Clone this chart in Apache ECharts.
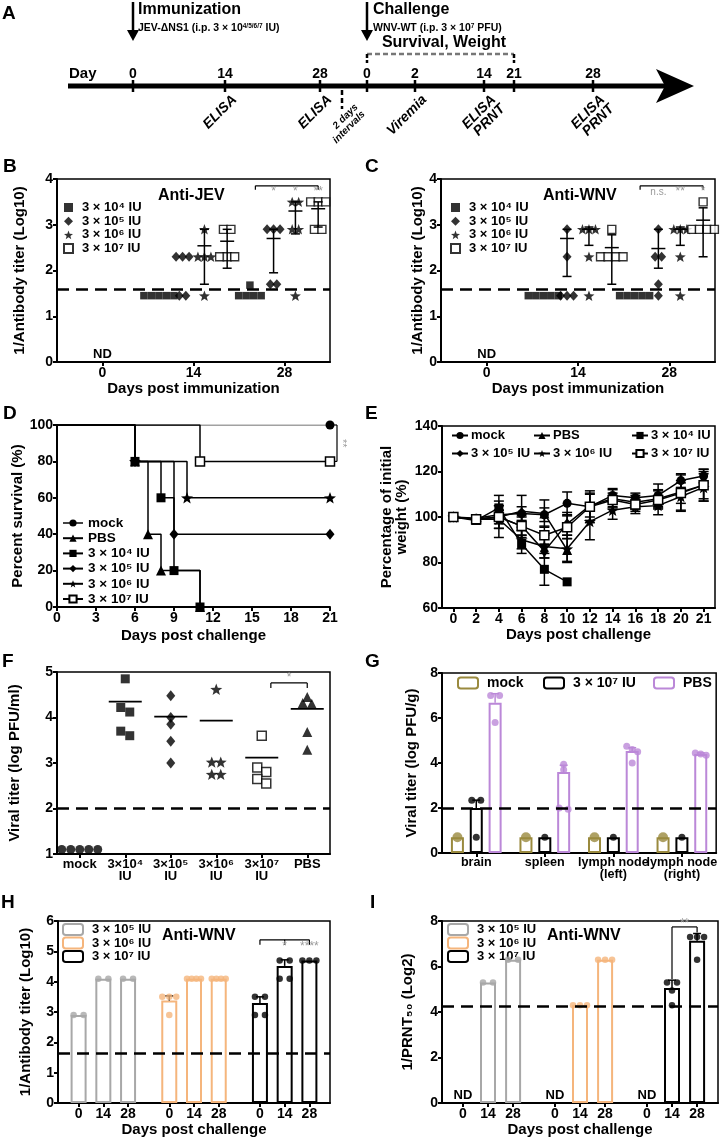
<!DOCTYPE html>
<html><head><meta charset="utf-8">
<script src="https://cdn.jsdelivr.net/npm/echarts@6.0.0/dist/echarts.min.js"></script>
<style>
html,body{margin:0;padding:0;background:#fff}
#wrap{position:relative;width:720px;height:1139px;overflow:hidden;background:#fff}
.p{position:absolute;left:0;top:0;width:720px;height:1139px}
</style></head><body><div id="wrap"></div>
<script>
// ================= DATA =================
// Panel A timeline
const tlDayLabels=['0','14','28','0','2','14','21','28'];
const tlEventLabels=[null,'ELISA','ELISA',null,'Viremia','ELISA\nPRNT',null,'ELISA\nPRNT'];
// Panels B / C
const doseLabels=['3 × 10⁴ IU','3 × 10⁵ IU','3 × 10⁶ IU','3 × 10⁷ IU'];
const immDays=['0','14','28'];
const jev_3e4=[[],[1.45,1.45,1.45,1.45,1.45],[1.68,1.45,1.45,1.45,1.45]];
const jev_3e5=[[],[2.3,2.3,2.3,1.45,1.45],[2.9,2.9,2.9,1.7,1.7]];
const jev_3e6=[[],[2.9,2.3,2.3,2.3,1.45],[3.5,3.5,2.9,2.9,1.45]];
const jev_3e7=[[],[2.9,2.9,2.3,2.3,2.3],[3.5,3.5,3.5,2.9,2.9]];
const jevErr_3e4=[null,null,null];            // [mean, low, high]
const jevErr_3e5=[null,null,[2.7,1.95,2.9]];
const jevErr_3e6=[null,[2.54,1.7,2.9],[3.3,2.8,3.5]];
const jevErr_3e7=[null,[2.64,2.05,2.9],[3.35,2.95,3.5]];
const jevSig=['*','*','**'];
const wnv_3e4=[[],[1.45,1.45,1.45,1.45,1.45],[1.45,1.45,1.45,1.45,1.45]];
const wnv_3e5=[[],[2.9,2.3,1.45,1.45,1.45],[2.9,2.3,2.3,1.7,1.45]];
const wnv_3e6=[[],[2.9,2.9,2.9,2.3,1.45],[2.9,2.9,2.9,2.3,1.45]];
const wnv_3e7=[[],[2.9,2.3,2.3,2.3,2.3],[3.5,2.9,2.9,2.9,2.9]];
const wnvErr_3e4=[null,null,null];
const wnvErr_3e5=[null,[2.7,1.87,2.9],[2.48,2.05,2.9]];
const wnvErr_3e6=[null,[2.9,2.55,2.95],[2.9,2.55,2.95]];
const wnvErr_3e7=[null,[2.5,1.7,2.78],[3.1,2.3,3.37]];
const wnvSig=['n.s.','**','*'];
const elisaLOD=1.6;
// Panel D survival [day, %]
const survGroups=['mock','PBS','3 × 10⁴ IU','3 × 10⁵ IU','3 × 10⁶ IU','3 × 10⁷ IU'];
const surv_mock=[[0,100],[21,100]];
const surv_pbs=[[0,100],[6,80],[7,40],[8,20],[11,0]];
const surv_3e4=[[0,100],[6,80],[8,60],[9,20],[11,0]];
const surv_3e5=[[0,100],[6,80],[9,40],[21,40]];
const surv_3e6=[[0,100],[6,80],[10,60],[21,60]];
const surv_3e7=[[0,100],[11,80],[21,80]];
// Panel E weight (% of initial)
const wtDays=['0','2','4','6','8','10','12','14','16','18','20','21'];
const wt_mock=[100,99.5,101,101.5,101,106,104.5,109.5,108.5,109.5,116,118];
const wtSD_mock=[0,1,2,3,3,5,7,3,2,5,3,3];
const wt_pbs=[100,99,100,102.5,101.5,85.5,null,null,null,null,null,null];
const wtSD_pbs=[0,1,3,7,6,5];
const wt_3e4=[100,98.5,104,88,77,71.5,null,null,null,null,null,null];
const wtSD_3e4=[0,1.5,5.5,4,7,0];
const wt_3e5=[100,99,100,96,85,97,105,108,106.5,108,111,114];
const wtSD_3e5=[0,1,5,4,3,5,5,4,3,4,5,6];
const wt_3e6=[100,99,99,90,87,86,98,103,104.5,105,109,113];
const wtSD_3e6=[0,1,8,4,5,6,8,4,3,4,6,6];
const wt_3e7=[100,99,100,96,92,95.5,104.5,107.5,105.5,107.5,110.5,114];
const wtSD_3e7=[0,1,5,5,4,5,6,3,3,4,8,7];
// Panel F viremia
const virGroups=['mock','3×10⁴\nIU','3×10⁵\nIU','3×10⁶\nIU','3×10⁷\nIU','PBS'];
const vir_mock=[1.1,1.1,1.1,1.1,1.1];
const vir_3e4=[4.85,4.22,4.12,3.7,3.6];
const vir_3e5=[4.48,4.0,3.85,3.48,3.0];
const vir_3e6=[4.62,3.02,3.02,2.75,2.75];
const vir_3e7=[3.6,2.9,2.8,2.65,2.55];
const vir_pbs=[4.45,4.32,4.3,3.68,3.29];
const virMean=[null,4.35,4.02,3.93,3.12,4.19];
const virLOD=2;
// Panel G tissue titers
const tissues=['brain','spleen','lymph node\n(left)','lymph node\n(right)'];
const tisGroups=['mock','3 × 10⁷ IU','PBS'];
const tis_mockMean=[0.7,0.7,0.7,0.7];
const tis_mockSD=[0,0,0,0];
const tis_mockPts=[[0.7],[0.7],[0.7],[0.7]];
const tis_vacMean=[2.0,0.7,0.7,0.7];
const tis_vacSD=[0.35,0,0,0];
const tis_vacPts=[[2.35,2.35,0.7],[0.7],[0.7],[0.7]];
const tis_pbsMean=[6.68,3.6,4.53,4.4];
const tis_pbsSD=[0.4,0.3,0.15,0.05];
const tis_pbsPts=[[7.0,7.0,5.8],[3.95,3.7,2.0,1.95],[4.75,4.6,4.5,4.0],[4.45,4.4,4.35]];
// Panels H / I
const chDays=['0','14','28'];
const hiDoses=['3 × 10⁵ IU','3 × 10⁶ IU','3 × 10⁷ IU'];
const ab_3e5Mean=[2.9,4.1,4.1];  const ab_3e5SD=[0,0,0];
const ab_3e5Pts=[[2.9,2.9],[4.1,4.1],[4.1,4.1]];
const ab_3e6Mean=[3.38,4.1,4.1]; const ab_3e6SD=[0.15,0,0];
const ab_3e6Pts=[[3.5,3.5,3.5,2.9],[4.1,4.1,4.1,4.1],[4.1,4.1,4.1,4.1]];
const ab_3e7Mean=[3.3,4.52,4.7]; const ab_3e7SD=[0.2,0.2,0];
const ab_3e7Pts=[[3.5,3.5,2.9,2.9],[4.7,4.7,4.1,4.1],[4.7,4.7,4.7]];
const abLOD=1.65;
const pr_3e5Mean=[null,5.3,6.3];  const pr_3e5SD=[0,0,0];
const pr_3e5Pts=[[],[5.3,5.3],[6.3,6.3]];
const pr_3e6Mean=[null,4.3,6.3];  const pr_3e6SD=[0,0,0];
const pr_3e6Pts=[[],[4.3,4.3,4.3],[6.3,6.3,6.3]];
const pr_3e7Mean=[null,5.05,7.13]; const pr_3e7SD=[0,0.35,0.32];
const pr_3e7Pts=[[],[5.3,5.3,4.95,4.3],[7.3,7.3,7.3,6.3]];
const prntLOD=4.25;

// ================= STYLE / HELPERS =================
const FONT='"Liberation Sans", Arial, Helvetica, sans-serif';
const SIG='#9a9a9a';
const STAR=(function(){const p=[];for(let i=0;i<10;i++){const r=i%2?0.42:1;const a=-Math.PI/2+i*Math.PI/5;p.push((50+50*r*Math.cos(a)).toFixed(1)+' '+(50+50*r*Math.sin(a)).toFixed(1));}return 'path://M'+p.join(' L')+' Z';})();
const COL={grey:'#a8a8a8',orange:'#f5b57c',black:'#000',olive:'#9a8a3e',purple:'#bb88d8'};
function mk(){const d=document.createElement('div');d.className='p';document.getElementById('wrap').appendChild(d);return echarts.init(d,null,{width:720,height:1139,renderer:'canvas'});}
function lab(o){return Object.assign({show:true,color:'#000',fontFamily:FONT,fontWeight:'bold',fontSize:14,margin:4,hideOverlap:false,showMinLabel:true,showMaxLabel:true},o||{});}
function tick(o){return Object.assign({show:true,length:4,lineStyle:{color:'#000',width:2}},o||{});}
const AXL={show:true,onZero:false,lineStyle:{color:'#000',width:2}};
const NAME={color:'#000',fontFamily:FONT,fontWeight:'bold',fontSize:15};
function axis(o){return Object.assign({axisLine:AXL,axisTick:tick(),axisLabel:lab(),splitLine:{show:false},nameLocation:'middle',nameTextStyle:NAME},o);}
function grid(l,t,w,h,box){return {left:l,top:t,width:w,height:h,show:box,borderColor:'#000',borderWidth:1.5,containLabel:false};}
function dash(v){return {silent:true,symbol:['none','none'],label:{show:false},lineStyle:{color:'#000',type:[12,7],width:2.5},emphasis:{disabled:true},data:[{yAxis:v}]};}
function ltxt(o){return Object.assign({fontFamily:FONT,fontWeight:'bold',fontSize:13,color:'#000'},o||{});}
function gLine(x1,y1,x2,y2,st){return {type:'line',silent:true,shape:{x1:x1,y1:y1,x2:x2,y2:y2},style:Object.assign({stroke:'#000',lineWidth:1.5},st||{})};}
function gText(x,y,text,st,extra){return Object.assign({type:'text',silent:true,x:x,y:y,style:Object.assign({text:text,fill:'#000',font:'bold 13px '+FONT,align:'center',verticalAlign:'middle'},st||{})},extra||{});}
// beeswarm: spread points of (nearly) equal value side by side, offsets in px
function swarm(vals,pxPerUnit,sp,thr,maxSpan){
  const off=new Array(vals.length).fill(0);
  const order=vals.map((v,i)=>i).sort((a,b)=>vals[b]-vals[a]);
  let grp=[];
  const flush=()=>{const n=grp.length;const s=(maxSpan&&n>1)?Math.min(sp,maxSpan/(n-1)):sp;grp.forEach((i,k)=>off[i]=(k-(n-1)/2)*s);grp=[];};
  order.forEach(i=>{if(grp.length&&Math.abs(vals[grp[grp.length-1]]-vals[i])*pxPerUnit>thr)flush();grp.push(i);});
  flush();return off;
}
function errRender(meanW,capW){return function(params,api){
  const x=api.value(0),m=api.value(1),lo=api.value(2),hi=api.value(3);
  if(isNaN(m))return null;
  const pm=api.coord([x,m]),pl=api.coord([x,lo]),ph=api.coord([x,hi]);
  const st={stroke:'#000',lineWidth:1.5};const c=capW/2;
  const ch=[{type:'line',shape:{x1:pm[0],y1:pl[1],x2:pm[0],y2:ph[1]},style:st},
    {type:'line',shape:{x1:pm[0]-c,y1:pl[1],x2:pm[0]+c,y2:pl[1]},style:st},
    {type:'line',shape:{x1:pm[0]-c,y1:ph[1],x2:pm[0]+c,y2:ph[1]},style:st}];
  if(meanW)ch.push({type:'line',shape:{x1:pm[0]-meanW/2,y1:pm[1],x2:pm[0]+meanW/2,y2:pm[1]},style:st});
  return {type:'group',children:ch};
};}
function errUp(capW,color){return function(params,api){
  const x=api.value(0),m=api.value(1),sd=api.value(2);
  if(isNaN(m)||!sd)return null;
  const pm=api.coord([x,m]),ph=api.coord([x,m+sd]);
  const st={stroke:color||'#000',lineWidth:1.5};
  return {type:'group',children:[{type:'line',shape:{x1:pm[0],y1:pm[1],x2:pm[0],y2:ph[1]},style:st},
    {type:'line',shape:{x1:pm[0]-capW/2,y1:ph[1],x2:pm[0]+capW/2,y2:ph[1]},style:st}]};
};}
function meanRender(w){return function(params,api){
  const m=api.value(1);if(isNaN(m))return null;
  const p=api.coord([api.value(0),m]);
  return {type:'line',shape:{x1:p[0]-w/2,y1:p[1],x2:p[0]+w/2,y2:p[1]},style:{stroke:'#000',lineWidth:1.8}};
};}

// ================= PANEL A + letters =================
(function(){
  const ch=mk();
  const tlX=[133,225,320,367,415,484,514,593];
  const LY=86;
  const els=[];
  els.push(gLine(68,LY,668,LY,{lineWidth:5}));
  els.push({type:'polygon',silent:true,shape:{points:[[656,69],[694,LY],[656,103],[665,LY]]},style:{fill:'#000'}});
  els.push(gText(69,74,'Day',{align:'left',font:'bold 15px '+FONT}));
  tlX.forEach((x,i)=>{
    els.push(gLine(x,80,x,92,{lineWidth:2.5}));
    els.push(gText(x,74,tlDayLabels[i],{font:'bold 14px '+FONT}));
    if(tlEventLabels[i])els.push(gText(x+5,93,tlEventLabels[i],{align:'right',verticalAlign:'top',font:'italic bold 14px '+FONT,lineHeight:13},{rotation:Math.PI/4}));
  });
  // interval marker
  els.push(gLine(342,90,342,109,{lineWidth:2.5,lineDash:[5,3]}));
  els.push(gText(353,102,'2 days\nintervals',{align:'right',verticalAlign:'top',font:'italic bold 10px '+FONT,lineHeight:10},{rotation:Math.PI/4}));
  // arrows
  [tlX[0],tlX[3]].forEach(x=>{
    els.push(gLine(x,2,x,32,{lineWidth:2.5}));
    els.push({type:'polygon',silent:true,shape:{points:[[x-6,30],[x+6,30],[x,41]]},style:{fill:'#000'}});
  });
  els.push(gText(138,10,'Immunization',{align:'left',font:'bold 16px '+FONT}));
  els.push(gText(138,28,'JEV-ΔNS1 (i.p. 3 × 10{s|4/5/6/7} IU)',{align:'left',font:'bold 10.5px '+FONT,rich:{s:{fontSize:6.5,fontWeight:'bold',fontFamily:FONT,verticalAlign:'top',fill:'#000'}}}));
  els.push(gText(373,10,'Challenge',{align:'left',font:'bold 16px '+FONT}));
  els.push(gText(373,28,'WNV-WT (i.p. 3 × 10{s|7} PFU)',{align:'left',font:'bold 10.5px '+FONT,rich:{s:{fontSize:6.5,fontWeight:'bold',fontFamily:FONT,verticalAlign:'top',fill:'#000'}}}));
  els.push(gText(444,43,'Survival, Weight',{font:'bold 16px '+FONT}));
  els.push(gLine(tlX[3],54,tlX[6],54,{stroke:'#777',lineWidth:2.5,lineDash:[5,3]}));
  els.push(gLine(tlX[3],54,tlX[3],63,{lineWidth:2.5,lineDash:[4,2]}));
  els.push(gLine(tlX[6],54,tlX[6],63,{lineWidth:2.5,lineDash:[4,2]}));
  // panel letters
  [['A',2,4],['B',3,157],['C',365,157],['D',3,404],['E',365,404],['F',2,652],['G',365,652],['H',1,893],['I',370,893]].forEach(l=>{
    els.push(gText(l[1],l[2],l[0],{align:'left',verticalAlign:'top',font:'bold 19px '+FONT}));
  });
  ch.setOption({animation:false,graphic:{elements:els}});
})();

// ================= PANELS B / C =================
const colOff=[-0.38,-0.12,0.12,0.37];
const titerSym=[
 {symbol:'rect',size:7.5,sp:7.5,item:{color:'#000'}},
 {symbol:'diamond',size:[9,10],sp:6.5,item:{color:'#000'}},
 {symbol:STAR,size:11,sp:6.5,item:{color:'#000'}},
 {symbol:'rect',size:8,sp:7.5,item:{color:'#fff',borderColor:'#000',borderWidth:1.4}}];
function titerPanel(g,titers,errs,title,titleLeft,legendLeft,yGap,sig){
  const ch=mk();
  const xpu=g.w/3,ypu=g.h/4;
  const series=titers.map((perDay,di)=>{
    const d=[];
    perDay.forEach((vals,day)=>{const o=swarm(vals,ypu,titerSym[di].sp,4);vals.forEach((v,k)=>d.push([day+colOff[di]+o[k]/xpu,v]));});
    return {type:'scatter',name:doseLabels[di],symbol:titerSym[di].symbol,symbolSize:titerSym[di].size,symbolKeepAspect:true,itemStyle:titerSym[di].item,data:d,z:3};
  });
  series[0].markLine=dash(elisaLOD);
  const ed=[];
  errs.forEach((perDay,di)=>perDay.forEach((e,day)=>{if(e)ed.push([day+colOff[di],e[0],e[1],e[2]]);}));
  series.push({type:'custom',renderItem:errRender(14,9),data:ed,z:4,silent:true});
  ch.setOption({animation:false,
    grid:grid(g.l,g.t,g.w,g.h,true),
    title:{text:title,left:titleLeft,top:g.t+4,textStyle:{fontFamily:FONT,fontWeight:'bold',fontSize:16,color:'#000'}},
    legend:{orient:'vertical',left:legendLeft,top:g.t+22,padding:0,itemWidth:9,itemHeight:9,itemGap:0.7,selectedMode:false,textStyle:ltxt({lineHeight:13,padding:[0,0,0,4]}),data:doseLabels},
    xAxis:axis({type:'value',min:-0.5,max:2.5,axisTick:tick({customValues:[0,1,2]}),axisLabel:lab({customValues:[0,1,2],formatter:v=>immDays[Math.round(v)]}),name:'Days post immunization',nameGap:17}),
    yAxis:axis({type:'value',min:0,max:4,interval:1,name:'1/Antibody titer (Log10)',nameGap:yGap}),
    series:series});
  const P=(x,y)=>ch.convertToPixel({gridIndex:0},[x,y]);
  const els=[];
  const yb=P(0,3.85)[1],xl=P(2-0.32,0)[0],xr=P(2+colOff[3],0)[0];
  els.push(gLine(xl,yb,xr,yb,{lineWidth:1.2}));
  els.push(gLine(xl,yb,xl,yb+4,{lineWidth:1.2}));
  els.push(gLine(xr,yb,xr,yb+4,{lineWidth:1.2}));
  sig.forEach((s,i)=>{const p=P(2+colOff[i+1],3.72);els.push(gText(p[0],p[1],s,{fill:SIG,font:(s==='n.s.'?'10px ':'12px ')+FONT}));});
  const nd=P(0,0.17);els.push(gText(nd[0],nd[1],'ND',{font:'bold 13px '+FONT}));
  ch.setOption({graphic:{elements:els}});
}
titerPanel({l:57,t:179,w:273,h:183},[jev_3e4,jev_3e5,jev_3e6,jev_3e7],[jevErr_3e4,jevErr_3e5,jevErr_3e6,jevErr_3e7],'Anti-JEV',153,63,30,jevSig);
titerPanel({l:441,t:179,w:274,h:183},[wnv_3e4,wnv_3e5,wnv_3e6,wnv_3e7],[wnvErr_3e4,wnvErr_3e5,wnvErr_3e6,wnvErr_3e7],'Anti-WNV',538,450,16,wnvSig);

// group symbols: mock, PBS, 3e4, 3e5, 3e6, 3e7
const grpSym=[
 {symbol:'circle',size:9,item:{color:'#000'}},
 {symbol:'triangle',size:10,item:{color:'#000'}},
 {symbol:'rect',size:9,item:{color:'#000'}},
 {symbol:'diamond',size:[9,11],item:{color:'#000'}},
 {symbol:STAR,size:12,item:{color:'#000'}},
 {symbol:'rect',size:9,item:{color:'#fff',borderColor:'#000',borderWidth:1.5}}];

// ================= PANEL D =================
(function(){
  const ch=mk();
  const data=[surv_mock,surv_pbs,surv_3e4,surv_3e5,surv_3e6,surv_3e7];
  ch.setOption({animation:false,grid:grid(57,425,273,182,false),
    xAxis:axis({type:'value',min:0,max:21,interval:3,name:'Days post challenge',nameGap:21}),
    yAxis:axis({type:'value',min:0,max:100,interval:20,name:'Percent survival (%)',nameGap:32}),
    legend:{orient:'vertical',left:62,top:516,padding:0,itemWidth:20,itemHeight:9,itemGap:1.2,selectedMode:false,textStyle:ltxt({fontSize:13.5,lineHeight:13}),data:survGroups},
    series:data.map((pts,i)=>({type:'line',name:survGroups[i],step:'end',symbol:grpSym[i].symbol,symbolSize:grpSym[i].size,symbolKeepAspect:true,itemStyle:grpSym[i].item,
      lineStyle:{color:i===0?'#444':'#000',width:i===0?1.2:1.5},data:pts.map((p,k)=>k===0?{value:p,symbol:'none'}:p),z:3+i}))});
  const P=(x,y)=>ch.convertToPixel({gridIndex:0},[x,y]);
  const a=P(21,100),b=P(21,80),x=a[0]+7;
  ch.setOption({graphic:{elements:[gLine(x,a[1],x,b[1],{lineWidth:1.2}),gLine(x-4,a[1],x,a[1],{lineWidth:1.2}),gLine(x-4,b[1],x,b[1],{lineWidth:1.2}),
    gText(x+5,(a[1]+b[1])/2,'**',{fill:SIG,font:'11px '+FONT},{rotation:-Math.PI/2})]}});
})();

// ================= PANEL E =================
(function(){
  const ch=mk();
  const means=[wt_mock,wt_pbs,wt_3e4,wt_3e5,wt_3e6,wt_3e7];
  const sds=[wtSD_mock,wtSD_pbs,wtSD_3e4,wtSD_3e5,wtSD_3e6,wtSD_3e7];
  const series=means.map((m,i)=>({type:'line',name:survGroups[i],symbol:grpSym[i].symbol,symbolSize:grpSym[i].size,symbolKeepAspect:true,itemStyle:grpSym[i].item,lineStyle:{color:'#000',width:1.5},data:m,z:3+i}));
  const ed=[];
  means.forEach((m,i)=>m.forEach((v,k)=>{if(v!=null&&sds[i][k])ed.push([k,v,v-sds[i][k],v+sds[i][k]]);}));
  series.push({type:'custom',renderItem:errRender(0,10),data:ed,z:2,silent:true});
  const lg=(left,names)=>({orient:'vertical',left:left,top:429,itemWidth:16,itemHeight:9,itemGap:5,padding:0,selectedMode:false,textStyle:ltxt({fontSize:13,lineHeight:13,padding:[0,0,0,-2]}),data:names});
  ch.setOption({animation:false,grid:grid(442,426,273,182,true),
    legend:[lg(451,[survGroups[0],survGroups[3]]),lg(533,[survGroups[1],survGroups[4]]),lg(631,[survGroups[2],survGroups[5]])],
    xAxis:axis({type:'category',data:wtDays,boundaryGap:true,axisTick:tick({alignWithLabel:true}),axisLabel:lab({interval:0}),name:'Days post challenge',nameGap:17}),
    yAxis:axis({type:'value',min:60,max:140,interval:20,name:'Percentage of initial\nweight (%)',nameGap:33,nameTextStyle:Object.assign({},NAME,{lineHeight:15})}),
    series:series});
})();

// ================= PANEL F =================
(function(){
  const ch=mk();
  const vals=[vir_mock,vir_3e4,vir_3e5,vir_3e6,vir_3e7,vir_pbs];
  const symIdx=[0,2,3,4,5,1];
  const g={l:57,t:672,w:273,h:182};
  const xpu=g.w/6,ypu=g.h/4;
  const series=vals.map((vs,i)=>{
    const s=grpSym[symIdx[i]];const o=swarm(vs,ypu,9,5);
    return {type:'scatter',name:virGroups[i],symbol:s.symbol,symbolSize:s.size,symbolKeepAspect:true,itemStyle:s.item,data:vs.map((v,k)=>[i+o[k]/xpu,v]),z:3};
  });
  series[0].markLine=dash(virLOD);
  series.push({type:'custom',renderItem:meanRender(33),data:virMean.map((m,i)=>[i,m==null?NaN:m]),z:4,silent:true});
  ch.setOption({animation:false,grid:grid(g.l,g.t,g.w,g.h,true),
    xAxis:axis({type:'value',min:-0.5,max:5.5,axisTick:tick({customValues:[0,1,2,3,4,5]}),axisLabel:lab({customValues:[0,1,2,3,4,5],fontSize:13,lineHeight:12,formatter:v=>virGroups[Math.round(v)]})}),
    yAxis:axis({type:'value',min:1,max:5,interval:1,name:'Viral titer (log PFU/ml)',nameGap:35}),
    series:series});
  const P=(x,y)=>ch.convertToPixel({gridIndex:0},[x,y]);
  const a=P(4.2,4.76),b=P(5.0,4.76);
  ch.setOption({graphic:{elements:[gLine(a[0],a[1],b[0],b[1],{lineWidth:1.2}),gLine(a[0],a[1],a[0],a[1]+5,{lineWidth:1.2}),gLine(b[0],b[1],b[0],b[1]+5,{lineWidth:1.2}),
    gText((a[0]+b[0])/2,a[1]-5,'*',{fill:SIG,font:'12px '+FONT})]}});
})();

// ================= PANEL G =================
(function(){
  const ch=mk();
  const g={l:442,t:673,w:276,h:180};
  const xpu=g.w/4,ypu=g.h/8;
  const gOff=[-0.275,0,0.275];
  const means=[tis_mockMean,tis_vacMean,tis_pbsMean],sds=[tis_mockSD,tis_vacSD,tis_pbsSD],pts=[tis_mockPts,tis_vacPts,tis_pbsPts];
  const cols=[COL.olive,COL.black,COL.purple],dotSize=[10,7,7];
  const series=[];
  means.forEach((m,s)=>series.push({type:'bar',name:tisGroups[s],xAxisIndex:1,barWidth:13,barGap:'-100%',itemStyle:{color:'#fff',borderColor:cols[s],borderWidth:2},data:m.map((v,i)=>[i+gOff[s],v]),z:2}));
  pts.forEach((pp,s)=>{const d=[];pp.forEach((vs,i)=>{const o=swarm(vs,ypu,9,5,11);vs.forEach((v,k)=>d.push([i+gOff[s]+o[k]/xpu,v]));});
    series.push({type:'scatter',xAxisIndex:1,symbol:'circle',symbolSize:dotSize[s],itemStyle:{color:cols[s]},data:d,z:4});});
  means.forEach((m,s)=>series.push({type:'custom',xAxisIndex:1,renderItem:errUp(8,cols[s]),data:m.map((v,i)=>[i+gOff[s],v,sds[s][i]]),z:3,silent:true}));
  series[3].markLine=dash(virLOD);series[3].z=5;
  const lg=(left,name)=>({orient:'horizontal',left:left,top:676,padding:0,itemWidth:20,itemHeight:11,selectedMode:false,textStyle:ltxt({fontSize:14,padding:[0,0,0,4]}),data:[name]});
  ch.setOption({animation:false,grid:grid(g.l,g.t,g.w,g.h,true),
    legend:[lg(457,tisGroups[0]),lg(543,tisGroups[1]),lg(653,tisGroups[2])],
    xAxis:[axis({type:'category',data:tissues,boundaryGap:true,axisTick:tick({alignWithLabel:true,interval:0}),axisLabel:lab({interval:0,fontSize:12.6,lineHeight:12})}),
      {type:'value',min:-0.5,max:3.5,show:false}],
    yAxis:axis({type:'value',min:0,max:8,interval:2,name:'Viral titer (log PFU/g)',nameGap:23}),
    series:series});
})();

// ================= PANELS H / I =================
const hiCols=[COL.grey,COL.orange,COL.black];
function hiPanel(g,means,sds,pts,ymax,yint,lod,yName,yGap,legendLeft,titleLeft,annot){
  const ch=mk();
  const xmin=-0.5,xmax=32.5;
  const xpu=g.w/(xmax-xmin),ypu=g.h/ymax;
  const pos=(gi,di)=>gi*11+di*3+2;
  const posLabel={};const posList=[];
  hiDoses.forEach((d,gi)=>chDays.forEach((dd,di)=>{posLabel[pos(gi,di)]=dd;posList.push(pos(gi,di));}));
  const series=[];
  means.forEach((m,s)=>series.push({type:'bar',name:hiDoses[s],barWidth:16,barGap:'-100%',itemStyle:{color:'#fff',borderColor:hiCols[s],borderWidth:2},data:m.map((v,di)=>[pos(s,di),v]),z:2}));
  pts.forEach((pp,s)=>{const d=[];pp.forEach((vs,di)=>{const o=swarm(vs,ypu,10,4,14);vs.forEach((v,k)=>d.push([pos(s,di)+o[k]/xpu,v]));});
    series.push({type:'scatter',symbol:'circle',symbolSize:6.5,itemStyle:{color:hiCols[s]},data:d,z:4});});
  means.forEach((m,s)=>series.push({type:'custom',renderItem:errUp(8,'#000'),data:m.map((v,di)=>[pos(s,di),v==null?NaN:v,sds[s][di]]),z:3,silent:true}));
  series[3].markLine=dash(lod);series[3].z=5;
  ch.setOption({animation:false,grid:grid(g.l,g.t,g.w,g.h,true),
    title:{text:'Anti-WNV',left:titleLeft,top:g.t+2,textStyle:{fontFamily:FONT,fontWeight:'bold',fontSize:16,color:'#000'}},
    legend:{orient:'vertical',left:legendLeft,top:g.t+2,padding:0,itemWidth:20,itemHeight:11,itemGap:0.5,selectedMode:false,textStyle:ltxt({fontSize:13,lineHeight:12,padding:[0,0,0,4]}),data:hiDoses},
    xAxis:axis({type:'value',min:xmin,max:xmax,axisTick:tick({customValues:posList}),axisLabel:lab({customValues:posList,formatter:v=>posLabel[Math.round(v)]}),name:'Days post challenge',nameGap:18}),
    yAxis:axis({type:'value',min:0,max:ymax,interval:yint,name:yName,nameGap:yGap}),
    series:series});
  const P=(x,y)=>ch.convertToPixel({gridIndex:0},[x,y]);
  ch.setOption({graphic:{elements:annot(P,pos)}});
}
hiPanel({l:58,t:921,w:272,h:182},[ab_3e5Mean,ab_3e6Mean,ab_3e7Mean],[ab_3e5SD,ab_3e6SD,ab_3e7SD],[ab_3e5Pts,ab_3e6Pts,ab_3e7Pts],6,1,abLOD,'1/Antibody titer (Log10)',25,62,157,
  (P,pos)=>{const a=P(pos(2,0),5.38),m=P(pos(2,1),5.38),b=P(pos(2,2),5.38);const s1=P(pos(2,1),5.14),s2=P(pos(2,2),5.14);
    return [gLine(a[0],a[1],b[0],b[1],{lineWidth:1.2}),gLine(a[0],a[1],a[0],a[1]+5,{lineWidth:1.2}),gLine(m[0],m[1],m[0],m[1]+5,{lineWidth:1.2}),gLine(b[0],b[1],b[0],b[1]+5,{lineWidth:1.2}),
      gText(s1[0],s1[1],'*',{fill:SIG,font:'12px '+FONT}),gText(s2[0],s2[1],'****',{fill:SIG,font:'12px '+FONT})];});
hiPanel({l:442,t:921,w:276,h:182},[pr_3e5Mean,pr_3e6Mean,pr_3e7Mean],[pr_3e5SD,pr_3e6SD,pr_3e7SD],[pr_3e5Pts,pr_3e6Pts,pr_3e7Pts],8,2,prntLOD,'1/PRNT₅₀ (Log2)',27,447,542,
  (P,pos)=>{const a=P(pos(2,1),7.74),b=P(pos(2,2),7.74),al=P(pos(2,1),5.45),bl=P(pos(2,2),7.5),s=P((pos(2,1)+pos(2,2))/2,7.9);
    const els=[gLine(a[0],a[1],b[0],b[1],{lineWidth:1.2}),gLine(a[0],a[1],a[0],al[1],{lineWidth:1.2}),gLine(b[0],b[1],b[0],bl[1],{lineWidth:1.2}),gText(s[0],s[1],'**',{fill:SIG,font:'12px '+FONT})];
    [0,1,2].forEach(gi=>{const p=P(pos(gi,0),0.35);els.push(gText(p[0],p[1],'ND',{font:'bold 13px '+FONT}));});
    return els;});
</script></body></html>
